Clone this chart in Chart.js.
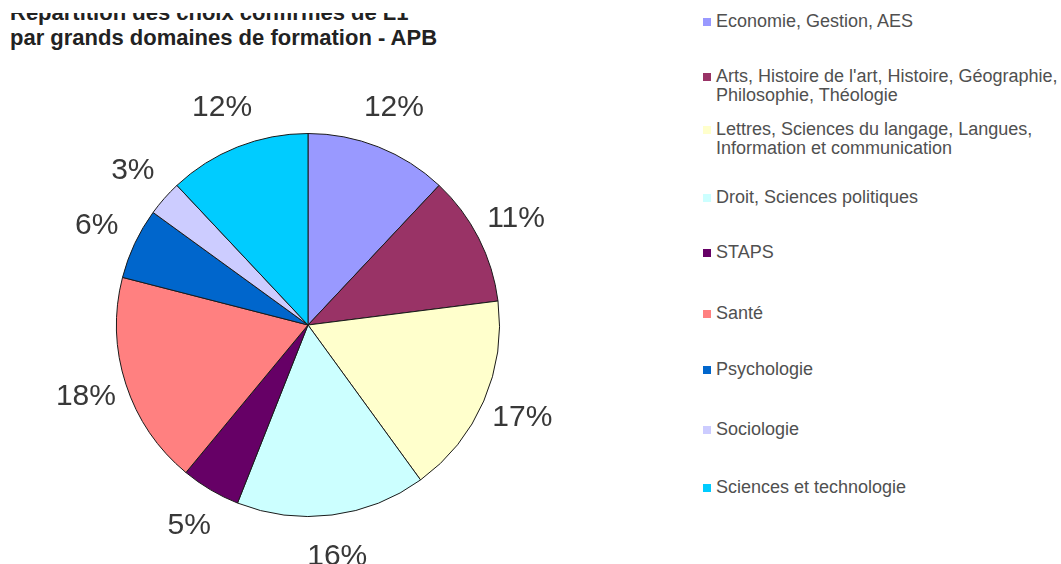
<!DOCTYPE html>
<html>
<head>
<meta charset="utf-8">
<script src="https://cdn.jsdelivr.net/npm/chart.js@4"></script>
<style>
  html, body { margin: 0; padding: 0; background: #fff; }
  body { width: 1061px; height: 564px; position: relative; overflow: hidden; font-family: "Liberation Sans", Arial, sans-serif; }
  #title-clip { position: absolute; left: 0; top: 13px; width: 620px; height: 60px; overflow: hidden; }
  #title { position: absolute; left: 10px; top: -13px; font-weight: bold; font-size: 22px; line-height: 25px; color: #222; white-space: nowrap; }
  #pie-wrap { position: absolute; left: 0; top: 0; width: 620px; height: 564px; }
  #legend { position: absolute; left: 702px; top: 0; width: 359px; height: 564px; }
  .item { position: absolute; left: 0; font-size: 18px; line-height: 19px; color: #505050; white-space: pre; padding-left: 14px; }
  .item i { position: absolute; left: 1px; top: 6px; width: 8px; height: 8px; }
</style>
</head>
<body>
<div id="title-clip"><div id="title">Répartition des choix confirmés de L1<br>par grands domaines de formation - APB</div></div>
<div id="pie-wrap"><canvas id="pie"></canvas></div>
<div id="legend"></div>
<script>
// Chart data
const domains = [
  "Economie, Gestion, AES",
  "Arts, Histoire de l'art, Histoire, Géographie,\nPhilosophie, Théologie",
  "Lettres, Sciences du langage, Langues,\nInformation et communication",
  "Droit, Sciences politiques",
  "STAPS",
  "Santé",
  "Psychologie",
  "Sociologie",
  "Sciences et technologie",
];
const shares = [12, 11, 17, 16, 5, 18, 6, 3, 12];
const sliceColors = [
  "#9999ff",
  "#993366",
  "#ffffcc",
  "#ccffff",
  "#660066",
  "#ff8080",
  "#0066cc",
  "#ccccff",
  "#00ccff",
];

// legend layout (first line of each entry, px from top)
const legendTops = [12, 67, 120, 188, 243, 304, 360, 420, 478];

const outsideLabels = {
  id: "outsideLabels",
  afterDatasetsDraw(chart) {
    const ctx = chart.ctx;
    const meta = chart.getDatasetMeta(0);
    ctx.save();
    ctx.font = "30px 'Liberation Sans', Arial, sans-serif";
    ctx.fillStyle = "#383838";
    ctx.textAlign = "center";
    ctx.textBaseline = "middle";
    meta.data.forEach((arc, i) => {
      const mid = (arc.startAngle + arc.endAngle) / 2;
      const r = arc.outerRadius + 42;
      ctx.fillText(shares[i] + "%", arc.x + Math.cos(mid) * r, arc.y + Math.sin(mid) * r);
    });
    ctx.restore();
  },
};

new Chart(document.getElementById("pie").getContext("2d"), {
  type: "pie",
  data: {
    labels: domains,
    datasets: [
      {
        data: shares,
        backgroundColor: sliceColors,
        borderColor: "#1a1a1a",
        borderWidth: 1,
      },
    ],
  },
  options: {
    responsive: true,
    maintainAspectRatio: false,
    animation: false,
    layout: { padding: { left: 116, right: 120, top: 133, bottom: 47 } },
    plugins: {
      legend: { display: false },
      tooltip: { enabled: false },
    },
  },
  plugins: [outsideLabels],
});

const legend = document.getElementById("legend");
domains.forEach((name, i) => {
  const div = document.createElement("div");
  div.className = "item";
  div.style.top = legendTops[i] + "px";
  const mark = document.createElement("i");
  mark.style.background = sliceColors[i];
  div.appendChild(mark);
  div.appendChild(document.createTextNode(name));
  legend.appendChild(div);
});
</script>
</body>
</html>
